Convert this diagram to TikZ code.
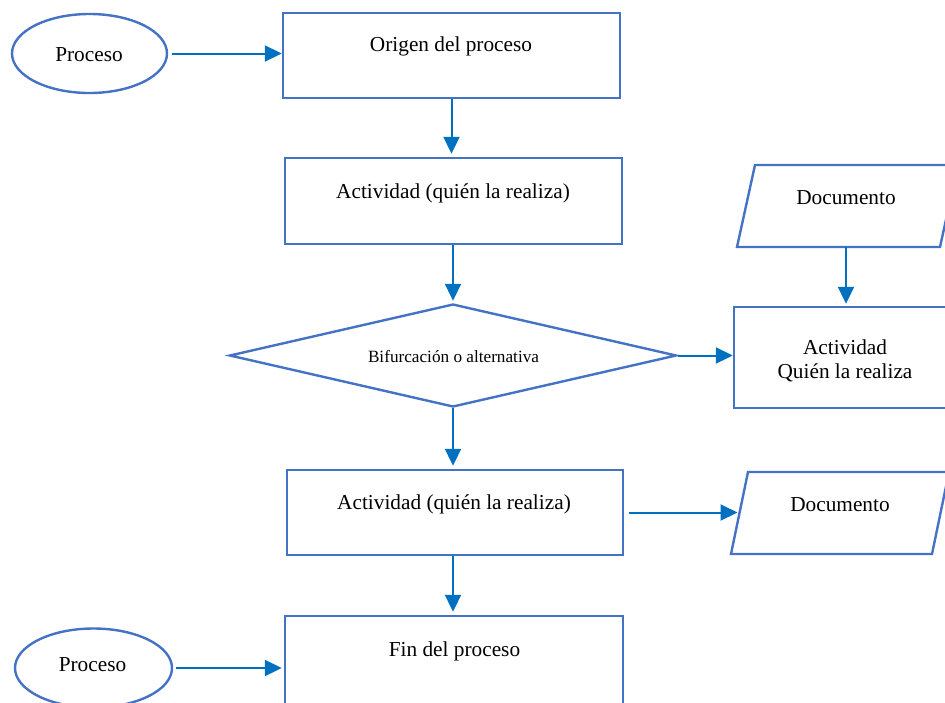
\documentclass[tikz,border=0pt]{standalone}
\usepackage{fontspec}
\setmainfont{Liberation Serif}
\usetikzlibrary{shapes.geometric,arrows.meta}
\definecolor{shapeblue}{HTML}{4472C4}
\definecolor{arrowblue}{HTML}{0070C0}
\begin{document}
\begin{tikzpicture}[x=1pt,y=-1pt,
  box/.style={draw=shapeblue,line width=2.4pt,rectangle,inner sep=0pt},
  oval/.style={draw=shapeblue,line width=2.4pt,ellipse,inner sep=0pt},
  dia/.style={draw=shapeblue,line width=2.4pt,diamond,inner sep=0pt},
  outline/.style={draw=shapeblue,line width=2.4pt,line join=miter},
  txt/.style={anchor=base,font=\fontsize{21.3}{24}\selectfont,inner sep=0pt},
  smalltxt/.style={anchor=base,font=\fontsize{17.2}{20}\selectfont,inner sep=0pt},
  conn/.style={draw=arrowblue,line width=2pt,-{Triangle[length=17pt,width=16pt]}}
]
\useasboundingbox (0,0) rectangle (945,702);
\clip (0,0) rectangle (945,702);
% shapes
\node[oval,minimum width=155pt,minimum height=79pt] (e1) at (89.5,53.5) {};
\node[box,minimum width=337pt,minimum height=85pt] (b1) at (451.5,55.5) {};
\node[box,minimum width=337pt,minimum height=86pt] (b2) at (453.5,201) {};
\node[dia,minimum width=447pt,minimum height=103pt] (d) at (453,355.5) {};
\node[box,minimum width=222pt,minimum height=101pt] (b4) at (845,357.5) {};
\node[box,minimum width=336pt,minimum height=85pt] (b3) at (455,512.5) {};
\node[box,minimum width=338pt,minimum height=92pt] (b5) at (454,662) {};
\node[oval,minimum width=157pt,minimum height=79pt] (e2) at (93.5,668) {};
% parallelograms (document shapes)
\draw[outline] (737,247) -- (940,247) -- (958,165) -- (755,165) -- cycle;
\coordinate (p1) at (846,247);
\draw[outline] (731,554) -- (932,554) -- (949,472) -- (748,472) -- cycle;
\coordinate (p2) at (739.5,513);
% texts
\node[txt] (t1) at (89,61) {Proceso};
\node[txt] (t2) at (451,51) {Origen del proceso};
\node[txt] (t3) at (453,198) {Actividad (quién la realiza)};
\node[smalltxt] (t4) at (453.5,362) {Bifurcación o alternativa};
\node[txt] (t5a) at (845,354) {Actividad};
\node[txt] (t5b) at (845,378) {Quién la realiza};
\node[txt] (t6) at (846,204) {Documento};
\node[txt] (t7) at (454,509) {Actividad (quién la realiza)};
\node[txt] (t8) at (840,511) {Documento};
\node[txt] (t9) at (454.5,656) {Fin del proceso};
\node[txt] (t10) at (92.5,671) {Proceso};
% connectors
\draw[conn,shorten <=4pt] (e1.east) -- (e1.east -| b1.west);
\draw[conn,shorten >=3pt] (b1.south) -- (b1.south |- b2.north);
\draw[conn,shorten >=2pt] (b2.south -| d.north) -- (d.north);
\draw[conn] (d.east) -- (d.east -| b4.west);
\draw[conn,shorten >=2pt] (p1) -- (p1 |- b4.north);
\draw[conn,shorten >=3pt] (d.south) -- (d.south |- b3.north);
\draw[conn,shorten <=5pt,shorten >=2pt] (b3.east) -- (b3.east -| p2);
\draw[conn,shorten >=3pt] (b3.south -| d.south) -- (b5.north -| d.south);
\draw[conn,shorten <=3pt,shorten >=2pt] (e2.east) -- (e2.east -| b5.west);
\end{tikzpicture}
\end{document}
